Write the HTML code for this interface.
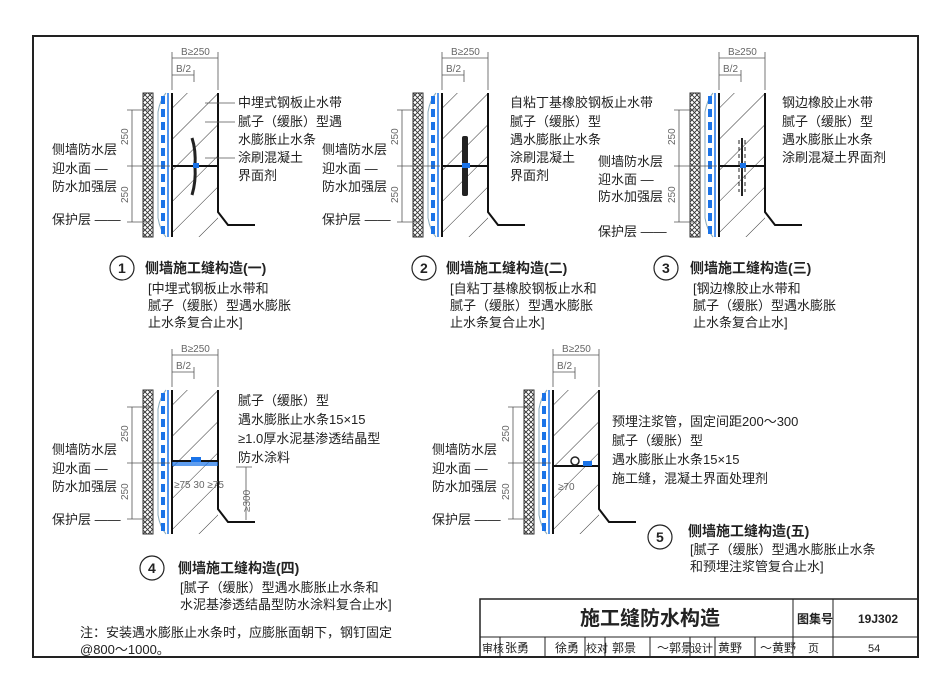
<!DOCTYPE html>
<html><head><meta charset="utf-8"><style>
body{margin:0;background:#fff}
svg{display:block}
text{font-family:"Liberation Sans","Noto Sans CJK SC",sans-serif;fill:#222}
.l{font-size:13px}
.t{font-size:14px;font-weight:bold}
.d{font-size:10px;fill:#666}
</style></head><body>
<svg width="950" height="691" viewBox="0 0 950 691" xmlns="http://www.w3.org/2000/svg">
<defs>
<pattern id="xh" width="5" height="5" patternUnits="userSpaceOnUse"><path d="M0 0L5 5M5 0L0 5" stroke="#333" stroke-width="0.9"/></pattern>
<pattern id="dg" width="22" height="22" patternUnits="userSpaceOnUse" patternTransform="rotate(-45)"><path d="M0 0H22" stroke="#333" stroke-width="1"/></pattern>
<g id="wall">
  <rect x="143" y="93" width="10" height="144" fill="url(#xh)" stroke="#333"/>
  <path d="M166 93 Q160 100 158 112 L158 218 Q160 230 166 237" fill="none" stroke="#8ab" stroke-width="1"/>
  <line x1="163" y1="96" x2="163" y2="234" stroke="#1a73e8" stroke-width="4" stroke-dasharray="8,5"/>
  <line x1="168" y1="93" x2="168" y2="237" stroke="#1a73e8" stroke-width="1.5"/>
  <path d="M172 93V237H210L218 225V93Z" fill="url(#dg)"/>
  <line x1="172" y1="93" x2="172" y2="237" stroke="#111" stroke-width="2"/>
  <path d="M218 93V212L228 225H255" fill="none" stroke="#111" stroke-width="2"/>
  <path d="M172 58H218M172 75H194M172 52V90M218 52V90M194 70V82" stroke="#555" stroke-width="0.8" fill="none"/>
  <text x="181" y="55" class="d">B≥250</text><text x="176" y="72" class="d">B/2</text>
  <path d="M132 110V222M127 110H150M127 166H170M127 222H150" stroke="#555" stroke-width="0.8" fill="none"/>
  <text x="0" y="0" class="d" transform="translate(128,145) rotate(-90)">250</text>
  <text x="0" y="0" class="d" transform="translate(128,203) rotate(-90)">250</text>
</g>
</defs>
<rect x="33" y="36" width="885" height="621" fill="none" stroke="#222" stroke-width="2"/>

<!-- detail 1 -->
<use href="#wall"/>
<line x1="172" y1="166" x2="218" y2="166" stroke="#111" stroke-width="2"/>
<path d="M192 138 Q196 150 195 166 Q196 182 192 195" fill="none" stroke="#222" stroke-width="3"/>
<rect x="193" y="163" width="6" height="5" fill="#1a73e8"/>
<path d="M205 103H235M205 122H235M205 158H235" stroke="#555" stroke-width="0.7"/>
<text x="238" y="107" class="l">中埋式钢板止水带</text>
<text x="238" y="126" class="l">腻子（缓胀）型遇</text>
<text x="238" y="144" class="l">水膨胀止水条</text>
<text x="238" y="162" class="l">涂刷混凝土</text>
<text x="238" y="180" class="l">界面剂</text>
<text x="52" y="154" class="l">侧墙防水层</text>
<text x="52" y="173" class="l">迎水面 —</text>
<text x="52" y="191" class="l">防水加强层</text>
<text x="52" y="224" class="l">保护层 ——</text>
<circle cx="122" cy="268" r="12" fill="none" stroke="#222" stroke-width="1.2"/><text x="118" y="273" class="t">1</text>
<text x="145" y="273" class="t">侧墙施工缝构造(一)</text>
<text x="148" y="293" class="l">[中埋式钢板止水带和</text>
<text x="148" y="310" class="l">腻子（缓胀）型遇水膨胀</text>
<text x="148" y="327" class="l">止水条复合止水]</text>

<!-- detail 2 -->
<use href="#wall" transform="translate(270,0)"/>
<line x1="442" y1="166" x2="488" y2="166" stroke="#111" stroke-width="2"/>
<rect x="462" y="136" width="6" height="60" rx="2" fill="#222"/>
<rect x="462" y="163" width="8" height="5" fill="#1a73e8"/>
<text x="510" y="107" class="l">自粘丁基橡胶钢板止水带</text>
<text x="510" y="126" class="l">腻子（缓胀）型</text>
<text x="510" y="144" class="l">遇水膨胀止水条</text>
<text x="510" y="162" class="l">涂刷混凝土</text>
<text x="510" y="180" class="l">界面剂</text>
<text x="322" y="154" class="l">侧墙防水层</text>
<text x="322" y="173" class="l">迎水面 —</text>
<text x="322" y="191" class="l">防水加强层</text>
<text x="322" y="224" class="l">保护层 ——</text>
<circle cx="424" cy="268" r="12" fill="none" stroke="#222" stroke-width="1.2"/><text x="420" y="273" class="t">2</text>
<text x="446" y="273" class="t">侧墙施工缝构造(二)</text>
<text x="450" y="293" class="l">[自粘丁基橡胶钢板止水和</text>
<text x="450" y="310" class="l">腻子（缓胀）型遇水膨胀</text>
<text x="450" y="327" class="l">止水条复合止水]</text>

<!-- detail 3 -->
<use href="#wall" transform="translate(547,0)"/>
<line x1="719" y1="166" x2="765" y2="166" stroke="#111" stroke-width="2"/>
<path d="M742 138V196" stroke="#222" stroke-width="2"/>
<path d="M739 140V192M745 140V192" stroke="#222" stroke-width="1" stroke-dasharray="4,3"/>
<rect x="740" y="163" width="6" height="5" fill="#1a73e8"/>
<text x="782" y="107" class="l">钢边橡胶止水带</text>
<text x="782" y="126" class="l">腻子（缓胀）型</text>
<text x="782" y="144" class="l">遇水膨胀止水条</text>
<text x="782" y="162" class="l">涂刷混凝土界面剂</text>
<text x="598" y="166" class="l">侧墙防水层</text>
<text x="598" y="184" class="l">迎水面 —</text>
<text x="598" y="201" class="l">防水加强层</text>
<text x="598" y="236" class="l">保护层 ——</text>
<circle cx="666" cy="268" r="12" fill="none" stroke="#222" stroke-width="1.2"/><text x="662" y="273" class="t">3</text>
<text x="690" y="273" class="t">侧墙施工缝构造(三)</text>
<text x="693" y="293" class="l">[钢边橡胶止水带和</text>
<text x="693" y="310" class="l">腻子（缓胀）型遇水膨胀</text>
<text x="693" y="327" class="l">止水条复合止水]</text>

<!-- detail 4 -->
<use href="#wall" transform="translate(0,297)"/>
<rect x="172" y="461" width="46" height="5" fill="#1a73e8" opacity="0.7"/>
<line x1="172" y1="461" x2="218" y2="461" stroke="#111" stroke-width="2"/>
<rect x="191" y="457" width="10" height="5" fill="#1a73e8"/>
<path d="M236 467H252M246 467V520" stroke="#555" stroke-width="0.8"/>
<text x="0" y="0" class="d" transform="translate(250,512) rotate(-90)">≥300</text>
<text x="174" y="488" class="d">≥75 30 ≥75</text>
<text x="238" y="405" class="l">腻子（缓胀）型</text>
<text x="238" y="424" class="l">遇水膨胀止水条15×15</text>
<text x="238" y="443" class="l">≥1.0厚水泥基渗透结晶型</text>
<text x="238" y="462" class="l">防水涂料</text>
<text x="52" y="454" class="l">侧墙防水层</text>
<text x="52" y="473" class="l">迎水面 —</text>
<text x="52" y="491" class="l">防水加强层</text>
<text x="52" y="524" class="l">保护层 ——</text>
<circle cx="152" cy="568" r="12" fill="none" stroke="#222" stroke-width="1.2"/><text x="148" y="573" class="t">4</text>
<text x="178" y="573" class="t">侧墙施工缝构造(四)</text>
<text x="180" y="592" class="l">[腻子（缓胀）型遇水膨胀止水条和</text>
<text x="180" y="609" class="l">水泥基渗透结晶型防水涂料复合止水]</text>

<!-- detail 5 -->
<use href="#wall" transform="translate(381,297)"/>
<line x1="553" y1="466" x2="599" y2="466" stroke="#111" stroke-width="2"/>
<circle cx="575" cy="461" r="4" fill="#fff" stroke="#222" stroke-width="1.5"/>
<rect x="583" y="461" width="9" height="5" fill="#1a73e8"/>
<text x="558" y="490" class="d">≥70</text>
<text x="612" y="426" class="l">预埋注浆管，固定间距200～300</text>
<text x="612" y="445" class="l">腻子（缓胀）型</text>
<text x="612" y="464" class="l">遇水膨胀止水条15×15</text>
<text x="612" y="483" class="l">施工缝，混凝土界面处理剂</text>
<text x="432" y="454" class="l">侧墙防水层</text>
<text x="432" y="473" class="l">迎水面 —</text>
<text x="432" y="491" class="l">防水加强层</text>
<text x="432" y="524" class="l">保护层 ——</text>
<circle cx="660" cy="537" r="12" fill="none" stroke="#222" stroke-width="1.2"/><text x="656" y="542" class="t">5</text>
<text x="688" y="536" class="t">侧墙施工缝构造(五)</text>
<text x="690" y="554" class="l">[腻子（缓胀）型遇水膨胀止水条</text>
<text x="690" y="571" class="l">和预埋注浆管复合止水]</text>

<text x="80" y="637" class="l">注：安装遇水膨胀止水条时，应膨胀面朝下，钢钉固定</text>
<text x="80" y="654" class="l">@800～1000。</text>

<!-- title block -->
<g stroke="#222" fill="none">
<rect x="480" y="599" width="438" height="58" stroke-width="1.5"/>
<line x1="480" y1="637" x2="918" y2="637"/>
<line x1="793" y1="599" x2="793" y2="657"/><line x1="833" y1="599" x2="833" y2="657"/>
<path d="M500 637V657M545 637V657M585 637V657M605 637V657M650 637V657M690 637V657M715 637V657M755 637V657"/>
</g>
<text x="580" y="625" style="font-size:20px;font-weight:bold">施工缝防水构造</text>
<text x="797" y="623" style="font-size:12px;font-weight:bold">图集号</text>
<text x="858" y="623" style="font-size:12px;font-weight:bold">19J302</text>
<text x="482" y="652" style="font-size:11px">审核</text>
<text x="505" y="652" style="font-size:12px">张勇</text>
<text x="555" y="652" style="font-size:12px">徐勇</text>
<text x="586" y="652" style="font-size:11px">校对</text>
<text x="612" y="652" style="font-size:12px">郭景</text>
<text x="657" y="652" style="font-size:12px">〜郭景</text>
<text x="691" y="652" style="font-size:11px">设计</text>
<text x="718" y="652" style="font-size:12px">黄野</text>
<text x="760" y="652" style="font-size:12px">〜黄野</text>
<text x="808" y="652" style="font-size:11px">页</text>
<text x="868" y="652" style="font-size:11px">54</text>
</svg>
</body></html>
